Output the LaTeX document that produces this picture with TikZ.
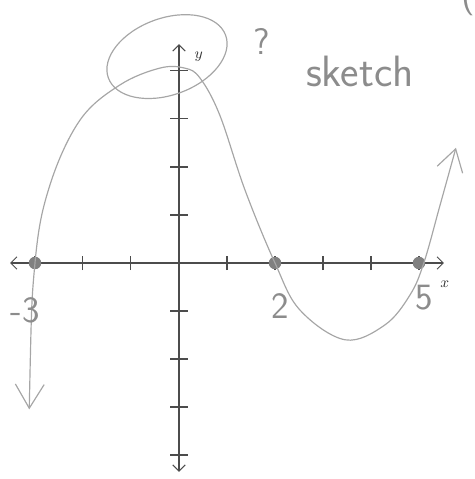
\documentclass[tikz,border=0pt]{standalone}
\usetikzlibrary{arrows.meta}

\begin{document}
\begin{tikzpicture}[
    axis/.style={draw=black!70, semithick,
                 {Straight Barb[length=1.3mm,width=2.6mm]}-{Straight Barb[length=1.3mm,width=2.6mm]}},
    tickmark/.style={draw=black!70, semithick},
    pencil/.style={draw=black!35, line width=0.7pt},
    zero/.style={circle, fill=black!50, inner sep=0pt, minimum size=2.6mm},
    hand/.style={text=black!45, font=\sffamily\fontsize{22}{24}\selectfont},
    lab/.style={font=\small, text=black!80},
]
\useasboundingbox (-3.729,-4.5) rectangle (6.146,5.479);

% axes
\coordinate (xl) at (-3.52,0);
\coordinate (xr) at (5.52,0);
\coordinate (yb) at (0,-4.35);
\coordinate (yt) at (0,4.56);
\draw[axis] (xl) -- (xr);
\draw[axis] (yb) -- (yt);
\foreach \k in {-3,-2,-1,1,2,3,4,5}
  \draw[tickmark] (\k,-0.15) -- (\k,0.15);
\foreach \k in {-4,-3,-2,-1,1,2,3,4}
  \draw[tickmark] (-0.18,\k) -- (0.18,\k);
\node[lab, anchor=west] (xlab) at (5.32,-0.45) {$x$};
\node[lab, anchor=west] (ylab) at (0.2,4.3) {$y$};

% zeros
\node[zero] (z1) at (-3,0) {};
\node[zero] (z2) at (2,0) {};
\node[zero] (z3) at (5,0) {};

% sketched curve
\draw[pencil, {Straight Barb[length=5mm,width=6mm]}-{Straight Barb[length=4.5mm,width=5.5mm]}]
  plot[smooth, tension=0.6] coordinates {
    (-3.12,-3.05) (-3.0,0) (-2.69,1.62) (-2.06,2.98) (-1.23,3.71) (-0.40,4.06)
    (0.12,4.06) (0.44,3.85) (0.85,3.08) (1.375,1.52) (2.0,0) (2.52,-0.98)
    (3.46,-1.6) (4.29,-1.29) (4.81,-0.67) (5.1,0) (5.44,1.21) (5.77,2.4)};

% hand notes
\draw[pencil] (-0.25,4.3) ellipse[x radius=1.3, y radius=0.8, rotate=20];
\node[hand] (q) at (1.73,4.62) {?};
\node[hand, font=\sffamily\fontsize{26}{28}\selectfont] (note) at (3.77,4.0) {sketch};
\node[hand] (lm3) at (-3.2,-0.98) {-3};
\node[hand] (l2) at (2.1,-0.9) {2};
\node[hand] (l5) at (5.1,-0.72) {5};
\node[hand, anchor=north east] (paren) at (6.3,6.05) {(};

\end{tikzpicture}
\end{document}
